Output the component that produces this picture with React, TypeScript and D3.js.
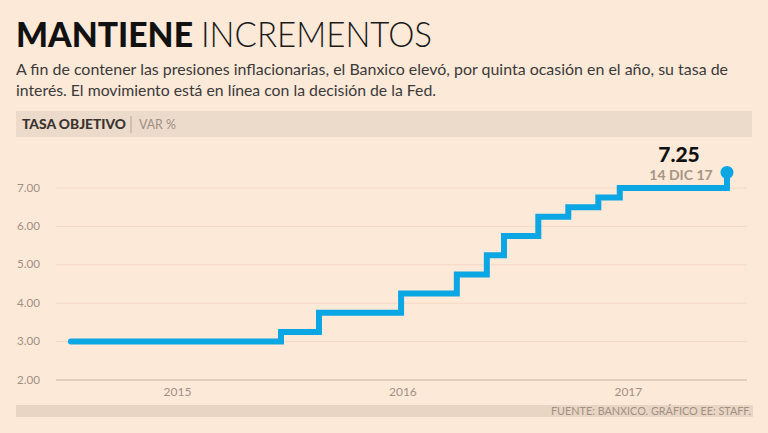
import React from "react";
import * as d3 from "d3";

const changeDates = [
  "2015-01-08", "2015-12-17", "2016-02-17", "2016-06-30", "2016-09-29", "2016-11-17",
  "2016-12-15", "2017-02-09", "2017-03-30", "2017-05-18", "2017-06-22", "2017-12-14",
];
const rates = [3.0, 3.25, 3.75, 4.25, 4.75, 5.25, 5.75, 6.25, 6.5, 6.75, 7.0, 7.25];
const yTicks = [2, 3, 4, 5, 6, 7];
const yearLabels = ["2015", "2016", "2017"];
const yearLabelDates = ["2015-07-01", "2016-07-03", "2017-07-06"];

const W = 768;
const H = 433;
const BG = "#fde9d8";
const BLUE = "#0ba6e4";
const GRAY = "#a09084";

export default function App() {
  const parse = d3.utcParse("%Y-%m-%d");
  const data = changeDates.map((d, i) => ({ date: parse(d) as Date, v: rates[i] }));
  const x = d3
    .scaleUtc()
    .domain([parse("2015-01-01") as Date, parse("2018-01-01") as Date])
    .range([66.6, 738]);
  const y = d3.scaleLinear().domain([2, 7]).range([380, 188]);

  const line = d3
    .line<{ date: Date; v: number }>()
    .x((d) => x(d.date))
    .y((d) => y(d.v))
    .curve(d3.curveStepAfter);

  const last = data[data.length - 1];
  const fmt = d3.format(".2f");

  return (
    <svg
      width={W}
      height={H}
      style={{ position: "fixed", left: 0, top: 0, display: "block" }}
      fontFamily="Lato, 'Open Sans', sans-serif"
    >
      <rect x={0} y={0} width={W} height={H} fill={BG} />
      {/* Title */}
      <text x={16} y={47} fontSize={35} fontWeight={900} fill="#111" textLength={177} lengthAdjust="spacingAndGlyphs">
        MANTIENE
      </text>
      <text x={201} y={47} fontSize={35} fontWeight={300} fill="#1a1a1a" textLength={231} lengthAdjust="spacingAndGlyphs">
        INCREMENTOS
      </text>
      {/* Subtitle */}
      <text x={16} y={75} fontSize={16} fill="#3a3a3a" textLength={712} lengthAdjust="spacingAndGlyphs">
        A fin de contener las presiones inflacionarias, el Banxico elevó, por quinta ocasión en el año, su tasa de
      </text>
      <text x={16} y={96} fontSize={16} fill="#3a3a3a" textLength={420} lengthAdjust="spacingAndGlyphs">
        interés. El movimiento está en línea con la decisión de la Fed.
      </text>
      {/* Header band */}
      <rect x={16} y={111} width={736} height={26} fill="#ecdaca" />
      <text x={22} y={129} fontSize={13} fontWeight={900} fill="#3a3330" textLength={104} lengthAdjust="spacingAndGlyphs">
        TASA OBJETIVO
      </text>
      <line x1={131} x2={131} y1={116} y2={133} stroke="#b5a396" strokeWidth={1} />
      <text x={139} y={129} fontSize={13} fill={GRAY} textLength={37} lengthAdjust="spacingAndGlyphs">
        VAR %
      </text>

      {/* Gridlines & y labels */}
      {yTicks.map((t) => (
        <g key={t}>
          <line
            x1={56}
            x2={747}
            y1={y(t)}
            y2={y(t)}
            stroke={t === 2 ? "#d9c6b8" : "#f3d8c6"}
            strokeWidth={t === 2 ? 1.3 : 1}
          />
          <text x={40} y={y(t) + 3.5} fontSize={11.5} fill={GRAY} textAnchor="end" textLength={23} lengthAdjust="spacingAndGlyphs">
            {fmt(t)}
          </text>
        </g>
      ))}
      {/* x labels */}
      {yearLabels.map((l, i) => (
        <text key={l} x={x(parse(yearLabelDates[i]) as Date)} y={396} fontSize={12} fill={GRAY} textAnchor="middle">
          {l}
        </text>
      ))}

      {/* Step line */}
      <path
        d={line(data) || ""}
        fill="none"
        stroke={BLUE}
        strokeWidth={6}
        strokeLinecap="round"
        strokeLinejoin="miter"
      />
      <line
        x1={x(last.date)}
        x2={x(last.date)}
        y1={y(last.v)}
        y2={y(last.v) - 6}
        stroke={BLUE}
        strokeWidth={6}
      />
      <circle cx={x(last.date)} cy={y(last.v) - 6} r={6.5} fill={BLUE} />
      <text x={679} y={162} fontSize={21} fontWeight={900} fill="#111" textAnchor="middle">
        {fmt(last.v)}
      </text>
      <text x={681} y={180} fontSize={14} fontWeight={700} fill="#a69484" textAnchor="middle">
        14 DIC 17
      </text>

      {/* Bottom band */}
      <rect x={16} y={405} width={737} height={12} fill="#e9d5c3" />
      <text x={751} y={415} fontSize={11} fill={GRAY} textAnchor="end" textLength={200} lengthAdjust="spacingAndGlyphs">
        FUENTE: BANXICO. GRÁFICO EE: STAFF.
      </text>
    </svg>
  );
}
